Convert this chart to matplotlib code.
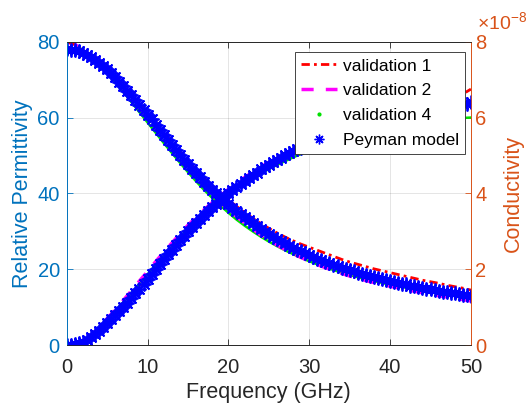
import numpy as np
import matplotlib
matplotlib.use("Agg")
import matplotlib.pyplot as plt
from matplotlib.lines import Line2D

plt.rcParams['font.family'] = ['Liberation Sans', 'DejaVu Sans']
plt.rcParams['mathtext.default'] = 'regular'

# frequency axes (GHz)
freq = np.arange(0, 51, 1)
freq_fine = np.arange(0, 50.5, 0.5)

# relative permittivity
eps_peyman = [78.0, 77.9, 77.8, 77.5, 77.1, 76.6, 76.0, 75.3, 74.5, 73.6,
              72.7, 71.7, 70.6, 69.5, 68.3, 67.1, 65.9, 64.6, 63.4, 62.1,
              60.8, 59.5, 58.1, 56.8, 55.4, 54.1, 52.8, 51.5, 50.2, 48.9,
              47.7, 46.5, 45.3, 44.2, 43.1, 42.0, 41.0, 40.0, 39.0, 38.0,
              37.1, 36.2, 35.3, 34.5, 33.7, 32.9, 32.1, 31.4, 30.6, 29.9,
              29.3, 28.6, 28.0, 27.4, 26.8, 26.2, 25.7, 25.2, 24.7, 24.2,
              23.7, 23.2, 22.8, 22.4, 22.0, 21.6, 21.2, 20.8, 20.4, 20.0,
              19.7, 19.4, 19.1, 18.8, 18.5, 18.2, 17.9, 17.6, 17.4, 17.1,
              16.9, 16.6, 16.4, 16.2, 16.0, 15.7, 15.5, 15.3, 15.1, 14.9,
              14.7, 14.5, 14.3, 14.1, 14.0, 13.8, 13.6, 13.4, 13.3, 13.1,
              13.0]
eps_val1 = [80.0, 79.3, 77.8, 76.3, 74.7, 72.9, 70.8, 68.6, 66.2, 63.8,
            61.3, 58.7, 56.1, 53.5, 51.0, 48.6, 46.3, 44.1, 42.0, 40.1,
            38.3, 36.6, 35.0, 33.5, 32.1, 30.8, 29.6, 28.5, 27.5, 26.6,
            25.8, 25.0, 24.2, 23.4, 22.6, 21.9, 21.3, 20.7, 20.1, 19.6,
            19.1, 18.6, 18.1, 17.6, 17.1, 16.7, 16.3, 15.8, 15.4, 15.0, 14.5]
eps_val2 = [80.0, 79.3, 77.9, 76.2, 74.4, 72.4, 70.2, 67.8, 65.3, 62.7,
            60.1, 57.4, 54.7, 52.0, 49.4, 46.9, 44.4, 42.0, 39.8, 37.7,
            35.7, 33.9, 32.2, 30.6, 29.1, 27.7, 26.4, 25.2, 24.1, 23.1,
            22.1, 21.2, 20.4, 19.6, 18.9, 18.2, 17.6, 17.0, 16.5, 16.0,
            15.5, 15.1, 14.6, 14.2, 13.8, 13.4, 13.0, 12.7, 12.3, 12.0, 11.6]
eps_val4 = [80.0, 79.2, 77.8, 76.0, 74.0, 71.8, 69.4, 66.8, 64.1, 61.4,
            58.7, 56.0, 53.3, 50.7, 48.1, 45.6, 43.2, 40.9, 38.8, 36.8,
            34.9, 33.1, 31.5, 30.0, 28.6, 27.3, 26.1, 25.0, 24.0, 23.0,
            22.1, 21.3, 20.5, 19.8, 19.1, 18.5, 17.9, 17.4, 16.9, 16.4,
            15.9, 15.5, 15.1, 14.7, 14.3, 14.0, 13.6, 13.3, 13.0, 12.7, 12.4]

# conductivity (x 1e-8)
sig_peyman = [0.00, 0.01, 0.02, 0.05, 0.09, 0.14, 0.20, 0.28, 0.36, 0.47,
              0.58, 0.68, 0.78, 0.89, 1.01, 1.12, 1.24, 1.37, 1.49, 1.61,
              1.74, 1.87, 2.00, 2.13, 2.26, 2.39, 2.51, 2.64, 2.76, 2.88,
              3.00, 3.11, 3.22, 3.33, 3.43, 3.53, 3.63, 3.72, 3.81, 3.91,
              4.00, 4.08, 4.17, 4.25, 4.33, 4.41, 4.48, 4.55, 4.63, 4.70,
              4.76, 4.83, 4.89, 4.94, 5.00, 5.06, 5.11, 5.16, 5.21, 5.26,
              5.31, 5.35, 5.39, 5.43, 5.47, 5.51, 5.55, 5.59, 5.63, 5.66,
              5.70, 5.73, 5.75, 5.78, 5.81, 5.84, 5.87, 5.90, 5.92, 5.95,
              5.97, 6.00, 6.02, 6.04, 6.06, 6.09, 6.11, 6.13, 6.15, 6.17,
              6.19, 6.21, 6.23, 6.25, 6.27, 6.29, 6.31, 6.33, 6.35, 6.37,
              6.40]
sig_val1 = [0.00, 0.02, 0.09, 0.20, 0.36, 0.58, 0.78, 1.01, 1.24, 1.49,
            1.74, 2.00, 2.26, 2.51, 2.76, 3.00, 3.22, 3.43, 3.63, 3.82,
            4.01, 4.19, 4.35, 4.51, 4.66, 4.80, 4.93, 5.05, 5.17, 5.27,
            5.37, 5.46, 5.55, 5.64, 5.72, 5.80, 5.86, 5.93, 6.00, 6.06,
            6.12, 6.18, 6.23, 6.29, 6.34, 6.39, 6.44, 6.49, 6.55, 6.62, 6.75]
sig_val2 = [0.00, 0.03, 0.12, 0.26, 0.45, 0.70, 0.93, 1.18, 1.43, 1.69,
            1.94, 2.20, 2.45, 2.69, 2.93, 3.16, 3.37, 3.57, 3.76, 3.93,
            4.11, 4.27, 4.42, 4.56, 4.70, 4.82, 4.94, 5.05, 5.15, 5.25,
            5.34, 5.42, 5.50, 5.58, 5.65, 5.72, 5.77, 5.83, 5.89, 5.94,
            5.99, 6.04, 6.08, 6.13, 6.17, 6.21, 6.25, 6.29, 6.33, 6.37, 6.42]
sig_val4 = [0.00, 0.03, 0.11, 0.24, 0.43, 0.67, 0.89, 1.13, 1.37, 1.61,
            1.86, 2.11, 2.36, 2.60, 2.84, 3.07, 3.28, 3.48, 3.66, 3.82,
            3.98, 4.13, 4.27, 4.40, 4.53, 4.64, 4.75, 4.85, 4.95, 5.04,
            5.13, 5.20, 5.27, 5.34, 5.41, 5.47, 5.52, 5.57, 5.62, 5.67,
            5.71, 5.75, 5.79, 5.83, 5.86, 5.89, 5.92, 5.95, 5.97, 5.99, 6.00]

c_left = '#0072BD'
c_right = '#D95319'
c_axis = '#262626'
c_red = '#ff0000'
c_mag = '#ff00ff'
c_grn = '#00e000'
c_blue = '#0000ff'
dash_dot = (3, 1.5, 1, 1.5)
dash_long = (3.5, 3.5)
star = (8, 2, 0)

fig = plt.figure(figsize=(5.27, 4.05), dpi=100)
ax1 = fig.add_axes([0.1266, 0.148, 0.767, 0.749])
ax2 = ax1.twinx()

# left axis: permittivity
ax1.plot(freq, eps_val4, color=c_grn, lw=1.8)
ax1.plot(freq, eps_val2, color=c_mag, lw=2.5, dashes=dash_long)
ax1.plot(freq, eps_val1, color=c_red, lw=2, dashes=dash_dot)
ax1.plot(freq_fine, eps_peyman, ls='none', marker=star, ms=10, mew=1.3,
         color=c_blue)

# right axis: conductivity
ax2.plot(freq, sig_val4, color=c_grn, lw=1.8)
ax2.plot(freq, sig_val2, color=c_mag, lw=2.5, dashes=dash_long)
ax2.plot(freq, sig_val1, color=c_red, lw=2, dashes=dash_dot)
ax2.plot(freq_fine, sig_peyman, ls='none', marker=star, ms=10, mew=1.3,
         color=c_blue)

ax1.set_xlim(0, 50)
ax1.set_ylim(0, 80)
ax2.set_ylim(0, 8)
ax1.set_xticks([0, 10, 20, 30, 40, 50])
ax1.set_yticks([0, 20, 40, 60, 80])
ax2.set_yticks([0, 2, 4, 6, 8])

ax1.grid(True, color='#000000', alpha=0.12, lw=0.6)
ax1.set_axisbelow(True)

ax1.tick_params(axis='x', direction='in', length=4, width=0.6, colors=c_axis,
                labelsize=14.5, pad=9, top=True)
ax1.tick_params(axis='y', direction='in', length=4, width=0.6, colors=c_left,
                labelsize=14.5, pad=5)
ax2.tick_params(axis='y', direction='in', length=4, width=0.6, colors=c_right,
                labelsize=14.5, pad=3)

for ax in (ax1, ax2):
    ax.spines['top'].set_color(c_axis)
    ax.spines['bottom'].set_color(c_axis)
    ax.spines['left'].set_color(c_left)
    ax.spines['right'].set_color(c_right)
    for s in ax.spines.values():
        s.set_linewidth(0.6)

ax1.set_xlabel('Frequency (GHz)', fontsize=15.5, color=c_axis, labelpad=4)
ax1.set_ylabel('Relative Permittivity', fontsize=15.5, color=c_left, labelpad=3)
ax2.set_ylabel('Conductivity', fontsize=15.5, color=c_right, labelpad=12)

fig.text(0.905, 0.927, r'$\times$10$^{-8}$', fontsize=14, color=c_right,
         ha='left', va='baseline')

handles = [
    Line2D([], [], color=c_red, lw=2, dashes=dash_dot),
    Line2D([], [], color=c_mag, lw=2.5, dashes=dash_long),
    Line2D([], [], color=c_grn, ls='none', marker='.', ms=4),
    Line2D([], [], color=c_blue, ls='none', marker=star, ms=7, mew=1),
]
labels = ['validation 1', 'validation 2', 'validation 4', 'Peyman model']
leg = ax2.legend(handles, labels, loc='upper right', fontsize=12.5,
                 bbox_to_anchor=(0.985, 0.965), frameon=True, fancybox=False,
                 framealpha=1, edgecolor='#262626', handlelength=2.1,
                 handletextpad=0.3, labelspacing=0.55, borderpad=0.35,
                 borderaxespad=0)
leg.get_frame().set_linewidth(0.6)

fig.savefig('out.png', dpi=100)
